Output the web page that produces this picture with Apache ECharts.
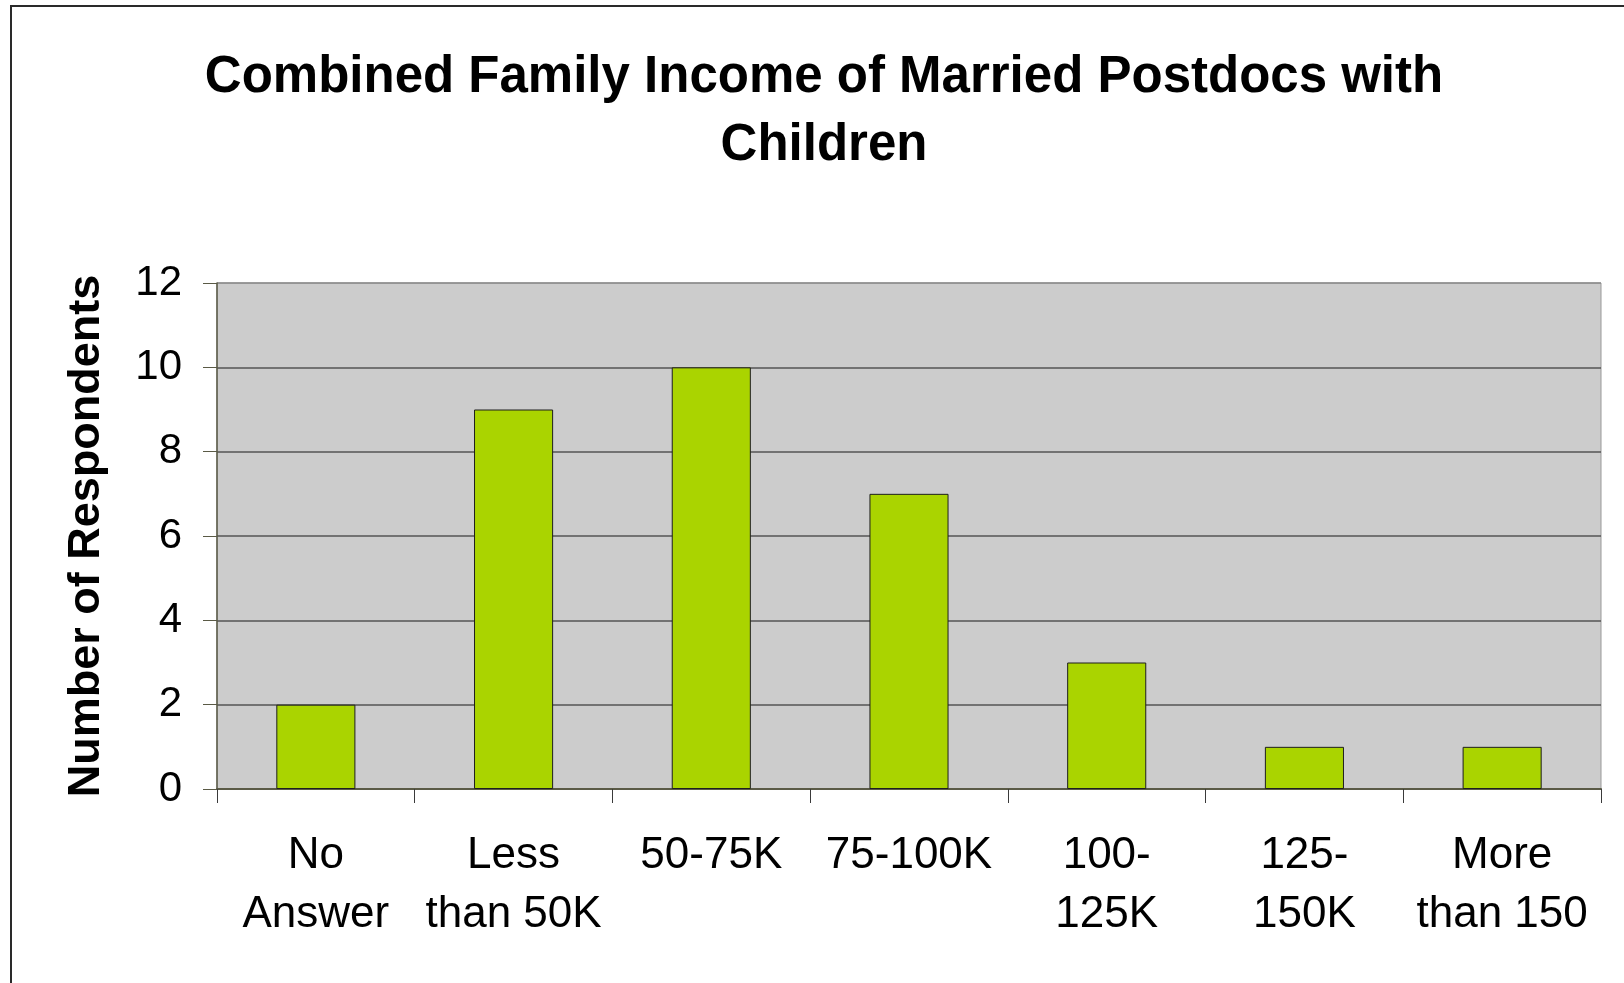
<!DOCTYPE html>
<html>
<head>
<meta charset="utf-8">
<title>Combined Family Income of Married Postdocs with Children</title>
<script src="https://cdn.jsdelivr.net/npm/echarts@6/dist/echarts.min.js"></script>
<style>
  html, body { margin: 0; padding: 0; background: #ffffff; }
  #chart { width: 1624px; height: 983px; }
</style>
</head>
<body>
<div id="chart"></div>
<script>
// Income brackets and respondent counts
const categories = ['No\nAnswer', 'Less\nthan 50K', '50-75K', '75-100K', '100-\n125K', '125-\n150K', 'More\nthan 150'];
const respondents = [2, 9, 10, 7, 3, 1, 1];
const yTicks = [0, 2, 4, 6, 8, 10, 12];

const FONT = '"Liberation Sans", Arial, sans-serif';
const chart = echarts.init(document.getElementById('chart'), null, { renderer: 'canvas' });

chart.setOption({
  animation: false,
  backgroundColor: '#ffffff',
  title: {
    text: 'Combined Family Income of Married Postdocs with\nChildren',
    left: 824,
    top: 44,
    padding: 0,
    textAlign: 'center',
    textStyle: {
      fontFamily: FONT,
      fontWeight: 'bold',
      fontSize: 51,
      lineHeight: 68,
      color: '#000000'
    }
  },
  graphic: [{
    type: 'rect',
    silent: true,
    z: -1,
    shape: { x: 11, y: 6, width: 1700, height: 1100 },
    style: { fill: 'none', stroke: '#2a2a2a', lineWidth: 2 }
  }],
  grid: {
    left: 217,
    right: 23,
    top: 283,
    bottom: 194,
    show: true,
    backgroundColor: '#cccccc',
    borderColor: '#9a9a9a',
    borderWidth: 1
  },
  xAxis: {
    type: 'category',
    data: categories,
    boundaryGap: true,
    axisLine: { lineStyle: { color: '#5a5a46', width: 2 } },
    axisTick: { show: true, length: 14, inside: false, lineStyle: { color: '#3a3a3a', width: 1 } },
    axisLabel: {
      margin: 37,
      fontFamily: FONT,
      fontSize: 44,
      lineHeight: 59,
      color: '#000000',
      interval: 0
    },
    splitLine: { show: false }
  },
  yAxis: {
    type: 'value',
    min: yTicks[0],
    max: yTicks[yTicks.length - 1],
    interval: 2,
    name: 'Number of Respondents',
    nameLocation: 'middle',
    nameRotate: 90,
    nameGap: 108,
    nameTextStyle: {
      fontFamily: FONT,
      fontWeight: 'bold',
      fontSize: 45,
      color: '#000000'
    },
    axisLine: { show: true, lineStyle: { color: '#5a5a46', width: 1.5 } },
    axisTick: { show: true, length: 14, inside: false, lineStyle: { color: '#5a5a46', width: 1 } },
    axisLabel: {
      margin: 35,
      fontFamily: FONT,
      fontSize: 42,
      color: '#000000'
    },
    splitLine: {
      show: true,
      lineStyle: {
        color: ['#555555', '#555555', '#555555', '#555555', '#555555', '#555555', '#8a8a8a'],
        width: 1.5
      }
    }
  },
  series: [{
    type: 'bar',
    data: respondents,
    barWidth: '40%',
    itemStyle: {
      color: '#aad400',
      borderColor: '#1e1e1e',
      borderWidth: 1
    }
  }]
});
</script>
</body>
</html>
